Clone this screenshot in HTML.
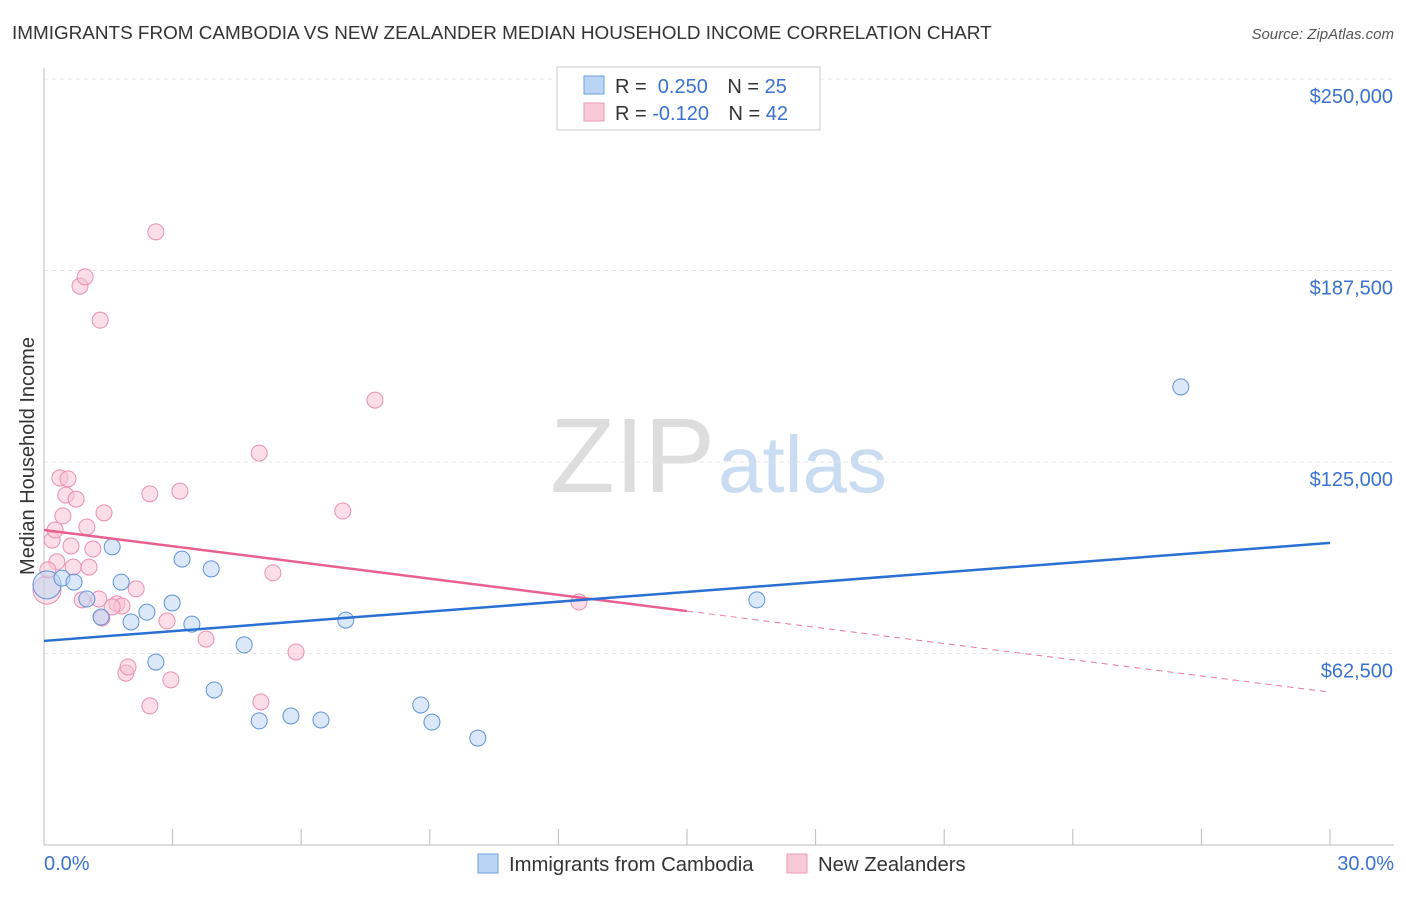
<!DOCTYPE html>
<html><head><meta charset="utf-8"><style>
body{margin:0;background:#fff;font-family:"Liberation Sans",sans-serif;}
svg text{font-family:"Liberation Sans",sans-serif;}
</style></head><body>
<svg id="c" width="1406" height="892">
<text x="12" y="39" font-size="18.9" fill="#333">IMMIGRANTS FROM CAMBODIA VS NEW ZEALANDER MEDIAN HOUSEHOLD INCOME CORRELATION CHART</text>
<text x="1394" y="39" font-size="15" fill="#555" font-style="italic" text-anchor="end">Source: ZipAtlas.com</text>
<text x="715" y="492" font-size="106" fill="#ddd" font-family="Liberation Serif" text-anchor="end">ZIP</text>
<text x="718" y="492" font-size="80" fill="#c9dcf2">atlas</text>
<g id="grid"></g><g id="marks"></g>
<text transform="translate(34,456) rotate(-90)" font-size="20" fill="#333" text-anchor="middle">Median Household Income</text>
<text x="44" y="870" font-size="20" fill="#3a72d0">0.0%</text>
<text x="1394" y="870" font-size="20" fill="#3a72d0" text-anchor="end">30.0%</text>
<g>
<rect x="557" y="67" width="263" height="63" fill="#fff" stroke="#ccc"/>
<rect x="584" y="76" width="20" height="18" fill="#b9d4f5" stroke="#6fa0e0"/>
<rect x="584" y="103" width="20" height="18" fill="#f9c9d7" stroke="#ec9ab4"/>
<text x="615" y="93" font-size="20" fill="#333">R = <tspan fill="#3a72d0">&#160;0.250</tspan>   <tspan dx="14">N = </tspan><tspan fill="#3a72d0">25</tspan></text>
<text x="615" y="120" font-size="20" fill="#333">R = <tspan fill="#3a72d0">-0.120</tspan>   <tspan dx="14">N = </tspan><tspan fill="#3a72d0">42</tspan></text>
</g>
<g>
<rect x="478" y="854" width="20" height="19" fill="#b9d4f5" stroke="#6fa0e0"/>
<text x="509" y="871" font-size="20.3" fill="#333">Immigrants from Cambodia</text>
<rect x="787" y="854" width="20" height="19" fill="#f9c9d7" stroke="#ec9ab4"/>
<text x="818" y="871" font-size="20.3" fill="#333">New Zealanders</text>
</g>
</svg>
<script>
const yTicks=[62500,125000,187500,250000];
const yTickLabels=["$62,500","$125,000","$187,500","$250,000"];
const xTicks=[0,3,6,9,12,15,18,21,24,27,30];
const blueX=[0.07,0.42,0.70,1.00,1.33,1.59,1.80,2.03,2.40,2.61,2.99,3.22,3.45,3.90,3.97,4.67,5.02,5.76,6.46,7.04,8.79,9.05,10.12,16.63,26.52];
const blueY=[84900,87100,85800,80300,74400,97300,85800,72800,76000,59700,79000,93300,72100,90100,50600,65300,40500,42100,40800,73400,45700,40100,34900,80000,149500];
const pinkX=[0.07,0.19,0.26,0.30,0.37,0.44,0.51,0.56,0.63,0.68,0.75,0.84,0.89,0.96,1.00,1.05,1.14,1.28,1.31,1.40,1.70,1.82,1.91,1.96,2.15,2.47,2.47,2.61,2.87,2.96,3.17,3.78,5.02,5.06,5.34,5.88,6.97,7.72,12.48,0.09,1.35,1.59];
const pinkY=[83200,99500,102800,92400,119800,107400,114200,119500,97600,90700,112900,182400,80000,185400,103800,90700,96600,80300,171300,108400,78700,78000,56100,58100,83600,45400,114600,200100,73100,53900,115500,67200,127900,46700,88800,63000,109000,145200,79300,89800,74100,77700];
const blueTrend=[66600,98600];
const pinkTrend=[102800,49900];
const pinkSolidEnd=[15];
const X=v=>44+v/30*1286, Y=v=>845-v/250000*766;
const NS="http://www.w3.org/2000/svg";
function mk(t,a,p){const e=document.createElementNS(NS,t);for(const k in a)e.setAttribute(k,a[k]);p.appendChild(e);return e;}
const g=document.getElementById('grid'),m=document.getElementById('marks');
yTicks.forEach((t,i)=>{
 const l=mk('line',{x1:44,x2:1394,y1:Y(t),y2:Y(t),stroke:'#e4e4e4','stroke-dasharray':'4 4'},g);
 
 
 const tx=mk('text',{x:1393,y:Y(t)+24,'font-size':20,fill:'#3a72d0','text-anchor':'end'},g);tx.textContent=yTickLabels[i];
 
 
});
mk('line',{x1:44,x2:44,y1:68,y2:845,stroke:'#bbb'},g);
mk('line',{x1:44,x2:1394,y1:845,y2:845,stroke:'#bbb'},g);
xTicks.forEach(t=>{const l=mk('line',{x1:X(t),x2:X(t),y1:829,y2:845,stroke:'#bbb'},g);
 
 });
function dots(xs,ys,fill,stroke,name){xs.forEach((x,i)=>{const big=i===0;
 const c=mk('circle',{cx:X(x),cy:Y(ys[i]),r:big?14:8,fill:fill,'fill-opacity':big?0.5:0.55,stroke:stroke,'stroke-width':1},m);
 
 });}
dots(pinkX,pinkY,'#f8c3d3','#e98fae','pink-point');
dots(blueX,blueY,'#bcd5f4','#5f93d8','blue-point');
const pv=x=>pinkTrend[0]+(pinkTrend[1]-pinkTrend[0])*x/30;
let l=mk('line',{x1:X(pinkSolidEnd[0]),y1:Y(pv(pinkSolidEnd[0])),x2:X(30),y2:Y(pinkTrend[1]),stroke:'#e8779d','stroke-width':1,'stroke-dasharray':'6 5'},m);


l=mk('line',{x1:X(0),y1:Y(pinkTrend[0]),x2:X(pinkSolidEnd[0]),y2:Y(pv(pinkSolidEnd[0])),stroke:'#e8608f','stroke-width':2.5},m);


l=mk('line',{x1:X(0),y1:Y(blueTrend[0]),x2:X(30),y2:Y(blueTrend[1]),stroke:'#2a6fd3','stroke-width':2.5},m);


</script>
</body></html>
